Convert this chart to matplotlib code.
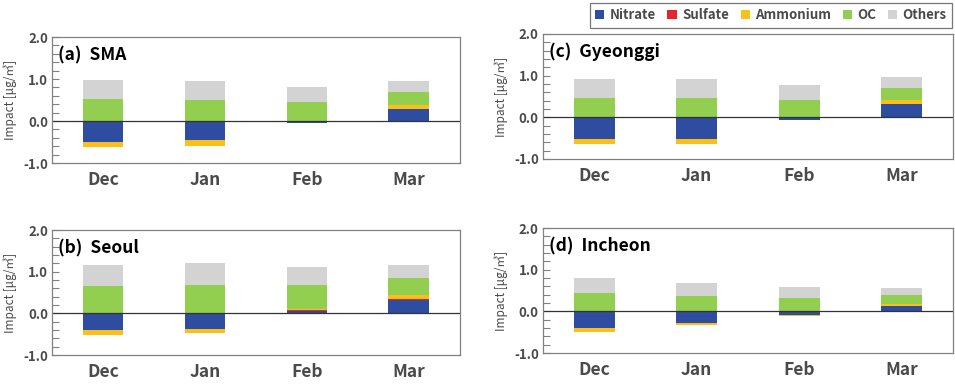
import matplotlib
matplotlib.use('Agg')
import matplotlib.pyplot as plt
from matplotlib.patches import Patch
from matplotlib.ticker import MultipleLocator, FormatStrFormatter
import numpy as np

plt.rcParams['font.family'] = ['Noto Sans CJK KR', 'DejaVu Sans']

months = ['Dec', 'Jan', 'Feb', 'Mar']
species = ['Nitrate', 'Sulfate', 'Ammonium', 'OC', 'Others']
colors = ['#2E4DA0', '#E8232A', '#FBBF1A', '#92CF50', '#D3D3D3']

# contributions per species for Dec, Jan, Feb, Mar
sma_nitrate = [-0.49, -0.46, -0.04, 0.29]
sma_sulfate = [0.00, 0.00, 0.00, 0.005]
sma_ammonium = [-0.13, -0.13, 0.00, 0.09]
sma_oc = [0.53, 0.51, 0.45, 0.31]
sma_others = [0.44, 0.44, 0.37, 0.25]

seoul_nitrate = [-0.41, -0.37, 0.06, 0.33]
seoul_sulfate = [0.00, 0.00, 0.01, 0.005]
seoul_ammonium = [-0.12, -0.11, 0.04, 0.10]
seoul_oc = [0.66, 0.69, 0.58, 0.41]
seoul_others = [0.50, 0.52, 0.43, 0.32]

gg_nitrate = [-0.51, -0.51, -0.06, 0.32]
gg_sulfate = [0.00, 0.00, 0.00, 0.005]
gg_ammonium = [-0.14, -0.13, 0.00, 0.10]
gg_oc = [0.47, 0.47, 0.42, 0.29]
gg_others = [0.45, 0.45, 0.35, 0.25]

ic_nitrate = [-0.39, -0.27, -0.09, 0.12]
ic_sulfate = [0.00, 0.00, 0.00, -0.015]
ic_ammonium = [-0.10, -0.05, -0.01, 0.06]
ic_oc = [0.43, 0.36, 0.31, 0.21]
ic_others = [0.37, 0.32, 0.27, 0.16]

panels = [
    ('(a)  SMA', [sma_nitrate, sma_sulfate, sma_ammonium, sma_oc, sma_others]),
    ('(b)  Seoul', [seoul_nitrate, seoul_sulfate, seoul_ammonium, seoul_oc, seoul_others]),
    ('(c)  Gyeonggi', [gg_nitrate, gg_sulfate, gg_ammonium, gg_oc, gg_others]),
    ('(d)  Incheon', [ic_nitrate, ic_sulfate, ic_ammonium, ic_oc, ic_others]),
]

# axes rectangles in figure fraction
rects = [
    [0.0545, 0.5755, 0.427, 0.328],
    [0.0545, 0.0755, 0.427, 0.3255],
    [0.5686, 0.586, 0.429, 0.3255],
    [0.5686, 0.0807, 0.429, 0.3255],
]

fig = plt.figure(figsize=(9.55, 3.84), dpi=100)
x = np.arange(len(months))
gray = '#808080'
txtc = '#4a4a4a'

for (title, series), rect in zip(panels, rects):
    ax = fig.add_axes(rect)
    pos = np.zeros(len(months))
    neg = np.zeros(len(months))
    for vals, c in zip(series, colors):
        vals = np.array(vals)
        bottom = np.where(vals >= 0, pos, neg)
        ax.bar(x, vals, 0.4, bottom=bottom, color=c, linewidth=0)
        pos = pos + np.where(vals >= 0, vals, 0)
        neg = neg + np.where(vals < 0, vals, 0)
    ax.axhline(0, color='#333333', lw=0.9)
    ax.set_xlim(-0.5, 3.5)
    ax.set_ylim(-1.0, 2.0)
    ax.yaxis.set_major_locator(MultipleLocator(1.0))
    ax.yaxis.set_minor_locator(MultipleLocator(0.2))
    ax.yaxis.set_major_formatter(FormatStrFormatter('%.1f'))
    ax.tick_params(axis='y', which='both', direction='in', length=5, width=0.8,
                   color=gray, labelsize=9.5, labelcolor=txtc, pad=3)
    ax.tick_params(axis='x', length=0, labelsize=12.5, labelcolor=txtc, pad=6)
    ax.set_xticks(x)
    ax.set_xticklabels(months, fontweight='bold')
    for lbl in ax.get_yticklabels():
        lbl.set_fontweight('bold')
    for sp in ax.spines.values():
        sp.set_color(gray)
        sp.set_linewidth(0.9)
    ax.set_ylabel('Impact [μg/㎥]', fontsize=8.5, color=txtc, labelpad=4,
                  fontweight='medium')
    ax.text(0.015, 0.855, title, transform=ax.transAxes, fontsize=12.5,
            fontweight='bold', va='center', ha='left', color='black')

handles = [Patch(facecolor=c, edgecolor='none', label=s) for s, c in zip(species, colors)]
leg = fig.legend(handles=handles, loc='upper right', ncol=5,
                 bbox_to_anchor=(952 / 955, 1 - 3 / 384), borderaxespad=0,
                 frameon=True, fancybox=False, handlelength=0.7, handleheight=0.7,
                 handletextpad=0.4, columnspacing=0.9, borderpad=0.4,
                 prop={'size': 9.5, 'weight': 'bold'})
leg.get_frame().set_edgecolor('#555555')
leg.get_frame().set_linewidth(0.9)
for t in leg.get_texts():
    t.set_color(txtc)

fig.savefig('out.png', dpi=100)
